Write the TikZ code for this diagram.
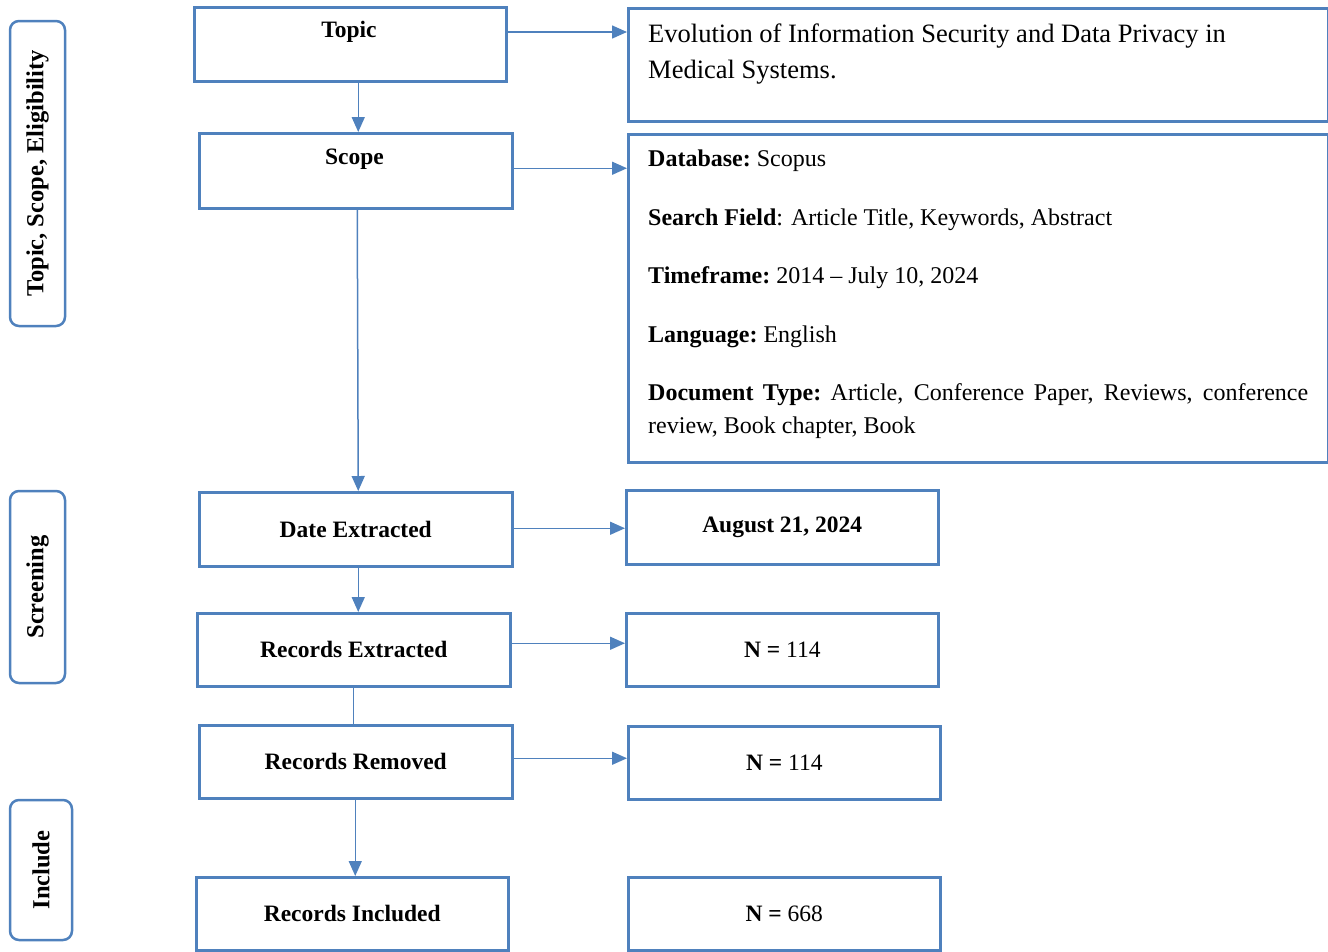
\documentclass[tikz,border=0pt]{standalone}
\usepackage{fontspec}
\setmainfont{Liberation Serif}
\usetikzlibrary{arrows.meta}
\definecolor{bl}{HTML}{4F81BD}
\begin{document}
\begin{tikzpicture}[x=1pt,y=-1pt,
 box/.style={draw=bl,line width=2.5pt,rectangle,anchor=north west,inner sep=0pt},
 side/.style={draw=bl,line width=2.5pt,rounded corners=9pt,inner sep=0pt},
 arr/.style={draw=bl,line width=1.5pt,-{Triangle[length=15pt,width=13pt]}},
 lnk/.style={draw=bl,line width=1.5pt},
 lbl/.style={font=\fontsize{23.5}{28}\selectfont\bfseries},
 slbl/.style={font=\fontsize{24.5}{28}\selectfont\bfseries},
 txt/.style={anchor=north west, inner sep=0pt},
]
\useasboundingbox (0,0) rectangle (1328,951);
% side labels
\node[side,slbl,rotate=90,minimum width=305pt,minimum height=55pt] (s1) at (37.5,173.5) {Topic, Scope, Eligibility};
\node[side,slbl,rotate=90,minimum width=192pt,minimum height=55pt] (s2) at (37.5,587) {Screening};
\node[side,slbl,rotate=90,minimum width=140pt,minimum height=62pt] (s3) at (41,870) {Include};
% left column
\node[box,minimum width=312pt,minimum height=74pt] (topic) at (193,6) {};
\node[lbl] (topicT) at (349,32) {Topic};
\node[box,minimum width=313pt,minimum height=75pt] (scope) at (198,132) {};
\node[lbl] (scopeT) at (354.5,159) {Scope};
\node[box,lbl,minimum width=313pt,minimum height=74pt] (date) at (198,491) {Date Extracted};
\node[box,lbl,minimum width=313pt,minimum height=73pt] (recEx) at (196,612) {Records Extracted};
\node[box,lbl,minimum width=313pt,minimum height=73pt] (recRem) at (198,724) {Records Removed};
\node[box,lbl,minimum width=312pt,minimum height=73pt] (recInc) at (195,876) {Records Included};
% right column
\node[box,minimum width=700pt,minimum height=113pt] (topicD) at (627,7) {};
\node[txt,align=left,font=\fontsize{26.5}{36}\selectfont] (topicDT) at (648,24) {Evolution of Information Security and Data Privacy in\\Medical Systems.};
\node[box,minimum width=700pt,minimum height=328pt] (scopeD) at (627,133) {};
\node[txt,text width=660pt,align=justify,font=\fontsize{24}{33}\selectfont] (scopeDT) at (648,150) {\setlength{\parskip}{25.5pt}\hyphenpenalty=10000
\textbf{Database:}~Scopus\par
\textbf{Search Field}: Article Title, Keywords, Abstract\par
\textbf{Timeframe:}~2014 – July 10, 2024\par
\textbf{Language:}~English\par
\textbf{Document Type:}~Article, Conference Paper, Reviews, conference review, Book chapter, Book\par};
\node[box,lbl,minimum width=312pt,minimum height=74pt] (aug) at (625,489) {August 21, 2024};
\node[box,minimum width=312pt,minimum height=73pt,font=\fontsize{23.5}{28}\selectfont] (n1) at (625,612) {\textbf{N =} 114};
\node[box,minimum width=312pt,minimum height=73pt,font=\fontsize{23.5}{28}\selectfont] (n2) at (627,725) {\textbf{N =} 114};
\node[box,minimum width=312pt,minimum height=73pt,font=\fontsize{23.5}{28}\selectfont] (n3) at (627,876) {\textbf{N =} 668};
% connectors
\draw[arr] (topic.east |- topicT) -- (topicD.west |- topicT);
\draw[arr] ([xshift=8pt]topic.south) -- ([xshift=8pt]topic.south |- scope.north);
\draw[arr] ([yshift=2.5pt]scope.east) -- ([yshift=2.5pt]scope.east -| scopeD.west);
\draw[arr] ([xshift=1.5pt]scope.south) -- ([xshift=2.5pt]date.north);
\draw[arr] ([yshift=1pt]date.east) -- ([yshift=1pt]date.east -| aug.west);
\draw[arr] ([xshift=2.5pt]date.south) -- ([xshift=2.5pt]date.south |- recEx.north);
\draw[arr] ([yshift=6.5pt]recEx.east) -- ([yshift=6.5pt]recEx.east -| n1.west);
\draw[lnk] ([xshift=-0.5pt]recEx.south) -- ([xshift=-0.5pt]recEx.south |- recRem.north);
\draw[arr] ([yshift=3.5pt]recRem.east) -- ([yshift=3.5pt]recRem.east -| n2.west);
\draw[arr] ([xshift=-0.5pt]recRem.south) -- ([xshift=-0.5pt]recRem.south |- recInc.north);
\end{tikzpicture}
\end{document}
